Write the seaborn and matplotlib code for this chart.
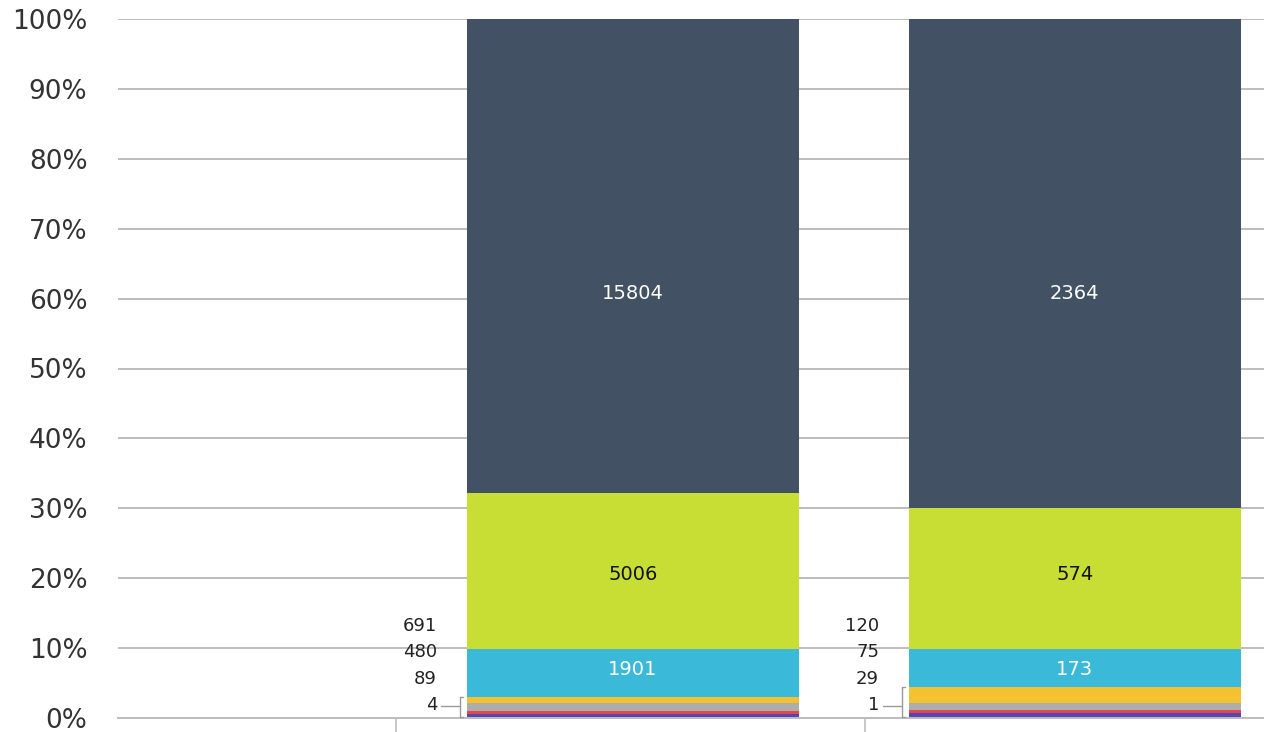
import numpy as np
import pandas as pd
import seaborn as sns
import matplotlib.pyplot as plt
from matplotlib.ticker import PercentFormatter

# groups (first slot is empty in the source chart)
groups = ["", "A", "B"]

# segment shares in %, bottom to top
purple = [0, 0.6, 0.7]
red = [0, 0.4, 0.5]
gray = [0, 1.1, 1.0]
yellow = [0, 0.9, 2.3]
cyan = [0, 6.9, 5.4]
lime = [0, 22.3, 20.1]
slate = [0, 67.8, 70.0]

# printed counts
cyan_lbl = ["", "1901", "173"]
lime_lbl = ["", "5006", "574"]
slate_lbl = ["", "15804", "2364"]
small_lbl = [[], ["691", "480", "89", "4"], ["120", "75", "29", "1"]]

layers = [("purple", purple, "#5546b4"), ("red", red, "#e4474c"),
          ("gray", gray, "#adadad"), ("yellow", yellow, "#f4c231"),
          ("cyan", cyan, "#3bb9d8"), ("lime", lime, "#c9de35"),
          ("slate", slate, "#425264")]

df = pd.DataFrame({"pos": np.arange(len(groups))})
cum = np.zeros(len(groups))
tops = {}
for name, vals, col in layers:
    cum = cum + np.array(vals)
    tops[name] = cum.copy()

sns.set_style("white")
plt.rcParams["font.family"] = ["DejaVu Sans"]

fig = plt.figure(figsize=(12.64, 7.32), dpi=100)
ax = fig.add_axes([118 / 1264, 14 / 732, 1 - 118 / 1264, 699 / 732])

# draw cumulative bars from top layer down so each covers the one below
for name, vals, col in reversed(layers):
    d = df.assign(top=tops[name])
    sns.barplot(data=d, x="pos", y="top", color=col, width=0.75,
                native_scale=True, saturation=1, linewidth=0, ax=ax, zorder=2)

ax.set_xlim(-0.165, 2.428)
ax.set_ylim(0, 100)
ax.yaxis.set_major_locator(plt.MultipleLocator(10))
ax.yaxis.set_major_formatter(PercentFormatter(decimals=0))
ax.grid(axis="y", color="#bdbdbd", linewidth=1.4, zorder=0)
ax.set_axisbelow(True)
for s in ["top", "right", "left"]:
    ax.spines[s].set_visible(False)
ax.spines["bottom"].set_color("#bdbdbd")
ax.spines["bottom"].set_linewidth(1.4)
ax.set_xlabel("")
ax.set_ylabel("")
ax.set_xticks([0.465, 1.525])
ax.set_xticklabels([])
ax.tick_params(axis="x", bottom=True, length=14, color="#bdbdbd", width=1.2,
               direction="out")
ax.tick_params(axis="y", length=0, labelsize=19, labelcolor="#333333", pad=22)

# y positions of the printed counts, as placed in the source chart
slate_y, lime_y, cyan_y = 60.8, 20.5, 6.9

for i in range(len(groups)):
    if not slate_lbl[i]:
        continue
    ax.text(i, slate_y, slate_lbl[i], ha="center", va="center",
            color="white", fontsize=14, zorder=4)
    ax.text(i, lime_y, lime_lbl[i], ha="center", va="center",
            color="#111111", fontsize=14, zorder=4)
    ax.text(i, cyan_y, cyan_lbl[i], ha="center", va="center",
            color="white", fontsize=14, zorder=4)

    # callout for the thin segments
    left = i - 0.375
    top = tops["yellow"][i]
    bx = left - 0.016
    ax.plot([bx + 0.006, bx, bx, bx + 0.006], [top, top, 0.2, 0.2],
            color="#999999", lw=1, clip_on=False, zorder=3)
    ax.plot([left - 0.06, bx], [1.7, 1.7], color="#999999", lw=1, zorder=3)
    for k, lab in enumerate(small_lbl[i]):
        ax.text(left - 0.068, 13.2 - 3.8 * k, lab, ha="right", va="center",
                color="#222222", fontsize=13, zorder=4)

fig.savefig("out.png", dpi=100)
